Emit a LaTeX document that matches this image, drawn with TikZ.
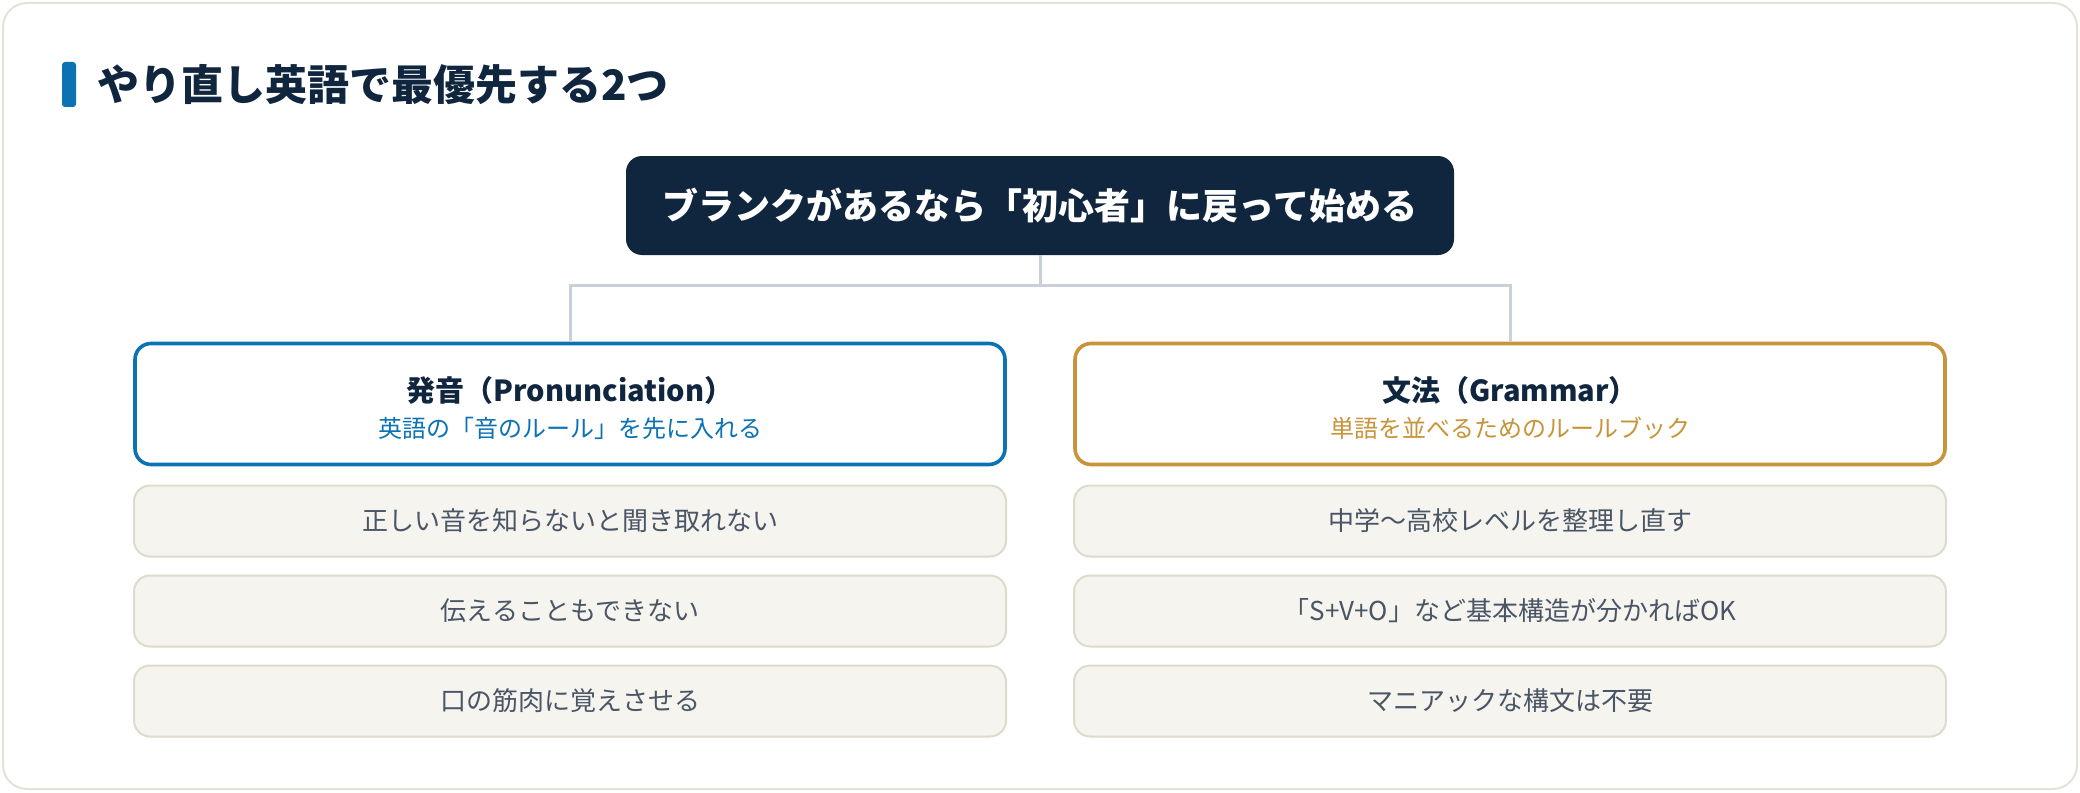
\documentclass[tikz,border=0pt]{standalone}
\usepackage{fontspec}
\setmainfont{Noto Sans CJK JP}
\usetikzlibrary{positioning}
\definecolor{navy}{HTML}{10263F}
\definecolor{pblue}{HTML}{0B72B4}
\definecolor{pgold}{HTML}{C8943A}
\definecolor{itemfill}{HTML}{F5F4EF}
\definecolor{itemline}{HTML}{DEDBCB}
\definecolor{itemtext}{HTML}{4A5565}
\definecolor{frameline}{HTML}{E4E2D8}
\definecolor{connline}{HTML}{C9D0DA}
\tikzset{
  frame/.style={draw=frameline, line width=1pt, fill=white, rounded corners=12pt},
  topbox/.style={fill=navy, rounded corners=8pt, minimum width=414pt, minimum height=49.5pt, inner sep=0pt,
    text=white, font=\bfseries\fontsize{18}{22}\selectfont},
  hdrbox/.style={draw=#1, line width=1.8pt, fill=white, rounded corners=8pt, minimum width=435pt, minimum height=60.5pt, inner sep=0pt},
  hdrtitle/.style={text=navy, inner sep=0pt, font=\bfseries\fontsize{14.5}{18}\selectfont},
  hdrsub/.style={text=#1, inner sep=0pt, font=\fontsize{12}{14}\selectfont},
  itembox/.style={draw=itemline, line width=1pt, fill=itemfill, rounded corners=8pt, minimum width=436pt, minimum height=35.5pt, inner sep=0pt,
    text=itemtext, font=\fontsize{13}{15}\selectfont},
  conn/.style={draw=connline, line width=1.5pt},
}
\begin{document}
\begin{tikzpicture}[x=0.5pt, y=-0.5pt]
\useasboundingbox (0,0) rectangle (2080,792);
\path[frame] (3,3) rectangle (2077,789);
% title
\node[fill=pblue, rounded corners=1.5pt, minimum width=7pt, minimum height=22.5pt, inner sep=0pt] (tbar) at (69,84.5) {};
\node[anchor=west, text=navy, inner sep=0pt, font=\bfseries\fontsize{21}{25}\selectfont] (title) at (97,85) {やり直し英語で最優先する2つ};
% top box
\node[topbox] (top) at (1040,205.5) {ブランクがあるなら「初心者」に戻って始める};
% headers
\node[hdrbox=pblue] (hdrL) at (570,404) {};
\node[hdrtitle] (hdrLt) at (570,390) {発音（Pronunciation）};
\node[hdrsub=pblue] (hdrLs) at (570,428) {英語の「音のルール」を先に入れる};
\node[hdrbox=pgold] (hdrR) at (1510,404) {};
\node[hdrtitle] (hdrRt) at (1510,390) {文法（Grammar）};
\node[hdrsub=pgold] (hdrRs) at (1510,428) {単語を並べるためのルールブック};
% connectors
\coordinate (jn) at (1040,285);
\draw[conn] (top.south) -- (jn);
\draw[conn] (jn) -| (hdrL.north);
\draw[conn] (jn) -| (hdrR.north);
% items left
\node[itembox] (l1) at (570,521) {正しい音を知らないと聞き取れない};
\node[itembox] (l2) at (570,611) {伝えることもできない};
\node[itembox] (l3) at (570,701) {口の筋肉に覚えさせる};
% items right
\node[itembox] (r1) at (1510,521) {中学〜高校レベルを整理し直す};
\node[itembox] (r2) at (1510,611) {「S+V+O」など基本構造が分かればOK};
\node[itembox] (r3) at (1510,701) {マニアックな構文は不要};
\end{tikzpicture}
\end{document}
